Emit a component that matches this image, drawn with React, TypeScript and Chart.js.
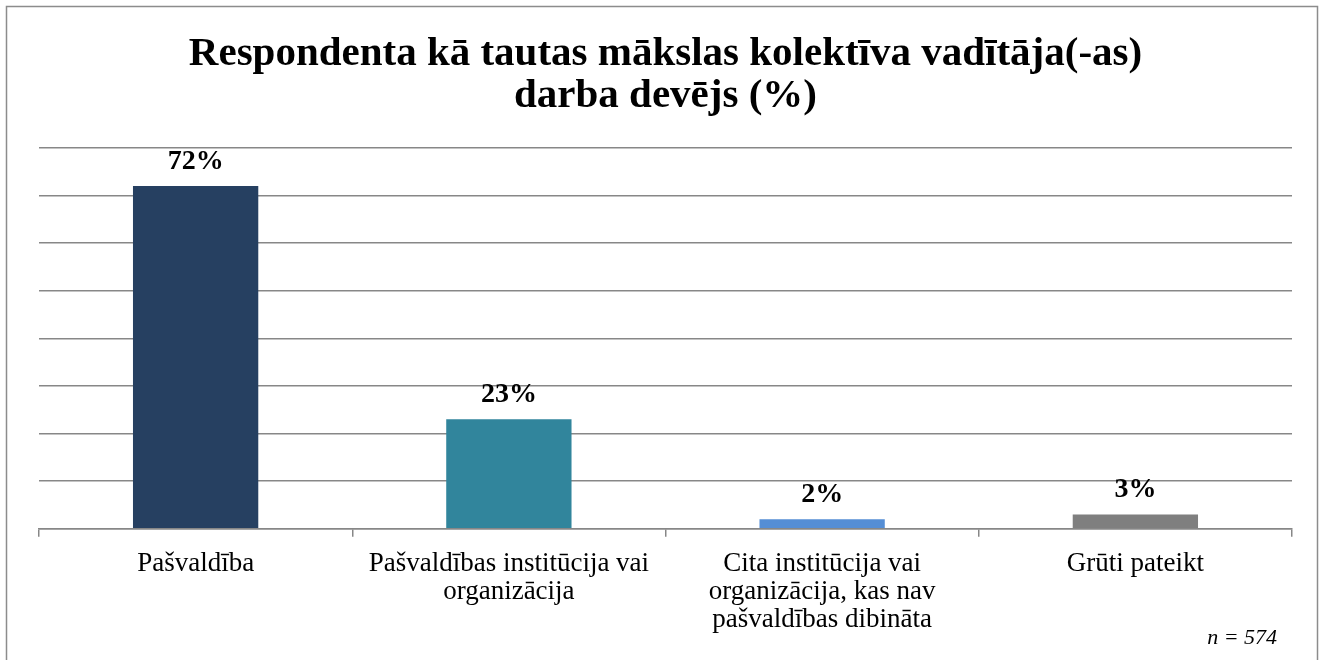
import React, { useEffect, useRef } from "react";
import { Chart, registerables } from "chart.js";

Chart.register(...registerables);

const categories: string[][] = [
  ["Pašvaldība"],
  ["Pašvaldības institūcija vai", "organizācija"],
  ["Cita institūcija vai", "organizācija, kas nav", "pašvaldības dibināta"],
  ["Grūti pateikt"],
];
const values: number[] = [72, 23, 2, 3];
const barColors: string[] = ["#264061", "#31859C", "#558ED5", "#7F7F7F"];
const titleLines: string[] = ["Respondenta kā tautas mākslas kolektīva vadītāja(-as)", "darba devējs (%)"];
const noteText = "n = 574";
const yMin = 0;
const yMax = 80;
const yStep = 10;

const SERIF = "'Liberation Serif', 'Times New Roman', serif";
const GRID = "#878787";

export default function App() {
  const ref = useRef<HTMLCanvasElement | null>(null);
  useEffect(() => {
    document.body.style.margin = "0";
    const canvas = ref.current!;
    const framePlugin = {
      id: "frame",
      beforeDraw(chart: any) {
        const ctx = chart.ctx;
        ctx.save();
        ctx.fillStyle = "#ffffff";
        ctx.fillRect(0, 0, chart.width, chart.height);
        ctx.strokeStyle = "#8c8c8c";
        ctx.lineWidth = 1.5;
        ctx.strokeRect(6.5, 6.5, 1311, 720);
        ctx.restore();
      },
      afterDraw(chart: any) {
        const ctx = chart.ctx;
        ctx.save();
        ctx.font = `italic 22px ${SERIF}`;
        ctx.fillStyle = "#000";
        ctx.textAlign = "right";
        ctx.textBaseline = "alphabetic";
        ctx.fillText(noteText, 1277, 644);
        ctx.restore();
      },
    };
    const labelPlugin = {
      id: "valueLabels",
      afterDatasetsDraw(chart: any) {
        const ctx = chart.ctx;
        const meta = chart.getDatasetMeta(0);
        ctx.save();
        ctx.font = `bold 28px ${SERIF}`;
        ctx.fillStyle = "#000";
        ctx.textAlign = "center";
        ctx.textBaseline = "alphabetic";
        meta.data.forEach((bar: any, i: number) => {
          ctx.fillText(values[i] + "%", bar.x, bar.y - 17);
        });
        ctx.restore();
      },
    };
    const chart = new Chart(canvas, {
      type: "bar",
      data: {
        labels: categories as any,
        datasets: [
          {
            data: values,
            backgroundColor: barColors,
            borderWidth: 0,
            categoryPercentage: 1,
            barPercentage: 0.4,
          },
        ],
      },
      options: {
        animation: false,
        responsive: false,
        maintainAspectRatio: false,
        layout: { padding: { left: 39, right: 31, top: 0, bottom: 13 } },
        plugins: {
          legend: { display: false },
          tooltip: { enabled: false },
          title: {
            display: true,
            text: titleLines,
            color: "#000",
            font: { family: SERIF, size: 41, weight: "bold", lineHeight: 1.025 },
            padding: { top: 33, bottom: 31 },
          },
        },
        scales: {
          x: {
            offset: true,
            grid: {
              display: true,
              offset: true,
              drawOnChartArea: false,
              drawTicks: true,
              tickLength: 8,
              color: GRID,
              lineWidth: 1.5,
            },
            border: { display: true, color: GRID, width: 1.5 },
            ticks: {
              color: "#000",
              font: { family: SERIF, size: 27, lineHeight: 1.04 },
              padding: 13,
              maxRotation: 0,
              autoSkip: false,
            },
          },
          y: {
            min: yMin,
            max: yMax,
            grid: { color: GRID, lineWidth: 1.5, drawTicks: false },
            border: { display: false },
            ticks: { display: false, stepSize: yStep },
          },
        },
      },
      plugins: [framePlugin, labelPlugin],
    });
    return () => chart.destroy();
  }, []);
  return (
    <div style={{ position: "absolute", left: 0, top: 0, width: 1323, height: 660 }}>
      <canvas ref={ref} width={1323} height={660} style={{ display: "block", width: 1323, height: 660 }} />
    </div>
  );
}
